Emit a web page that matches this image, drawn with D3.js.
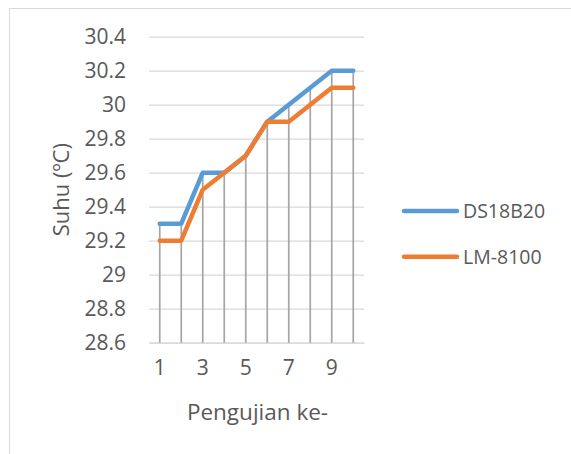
<!DOCTYPE html>
<html>
<head>
<meta charset="utf-8">
<script src="https://cdn.jsdelivr.net/npm/d3@7"></script>
<style>
  html, body { margin: 0; padding: 0; background: #fff; }
  svg { display: block; font-family: "Open Sans", "Noto Sans", sans-serif; }
</style>
</head>
<body>
<svg id="chart" width="571" height="454"></svg>
<script>
const categories = ["1", "2", "3", "4", "5", "6", "7", "8", "9", "10"];
const ds18b20 = [29.3, 29.3, 29.6, 29.6, 29.7, 29.9, 30.0, 30.1, 30.2, 30.2];
const lm8100  = [29.2, 29.2, 29.5, 29.6, 29.7, 29.9, 29.9, 30.0, 30.1, 30.1];
const seriesNames = ["DS18B20", "LM-8100"];
const yTickLabels = ["28.6", "28.8", "29", "29.2", "29.4", "29.6", "29.8", "30", "30.2", "30.4"];
const xTickLabels = ["1", "3", "5", "7", "9"];
const xTitle = "Pengujian ke-";
const yTitle = "Suhu (ºC)";

const colors = ["#5b9bd5", "#ed7d31"];
const textColor = "#595959";
const series = [ds18b20, lm8100];

const svg = d3.select("#chart");
const plot = { left: 149, right: 364, top: 36.7, bottom: 342.7 };

// chart area border
svg.append("path")
  .attr("d", `M9.5,454 V8.5 H571`)
  .attr("fill", "none").attr("stroke", "#d9d9d9").attr("stroke-width", 1);

const x = d3.scaleBand().domain(categories).range([plot.left, plot.right]).paddingInner(0).paddingOuter(0);
const cx = c => x(c) + x.bandwidth() / 2;
const y = d3.scaleLinear()
  .domain([+yTickLabels[0], +yTickLabels[yTickLabels.length - 1]])
  .range([plot.bottom, plot.top]);

// gridlines + y labels
const yAxisG = svg.append("g")
  .attr("transform", `translate(${plot.left},0)`)
  .call(d3.axisLeft(y)
    .tickValues(yTickLabels.map(Number))
    .tickFormat((d, i) => yTickLabels[i])
    .tickSize(-(plot.right - plot.left))
    .tickPadding(23));
yAxisG.select(".domain").remove();
yAxisG.selectAll(".tick line").attr("stroke", "#d9d9d9").attr("stroke-width", 1.3);
yAxisG.selectAll(".tick text")
  .attr("fill", textColor).style("font-size", "21px")
  .style("font-family", '"Open Sans", sans-serif');

// x axis line + labels
const xAxisG = svg.append("g")
  .attr("transform", `translate(0,${plot.bottom})`)
  .call(d3.axisBottom(x)
    .tickValues(xTickLabels)
    .tickSize(0)
    .tickPadding(17));
xAxisG.select(".domain").attr("stroke", "#d9d9d9").attr("stroke-width", 1.3);
xAxisG.selectAll(".tick text")
  .attr("fill", textColor).style("font-size", "21px")
  .style("font-family", '"Open Sans", sans-serif');

// drop lines
svg.append("g").selectAll("line")
  .data(categories)
  .join("line")
  .attr("x1", d => cx(d)).attr("x2", d => cx(d))
  .attr("y1", (d, i) => y(Math.max(ds18b20[i], lm8100[i])))
  .attr("y2", plot.bottom)
  .attr("stroke", "#a5a5a5").attr("stroke-width", 1.7);

// lines
const line = d3.line().x((d, i) => cx(categories[i])).y(d => y(d));
series.forEach((s, k) => {
  svg.append("path")
    .datum(s)
    .attr("d", line)
    .attr("fill", "none")
    .attr("stroke", colors[k])
    .attr("stroke-width", 4.5)
    .attr("stroke-linecap", "round")
    .attr("stroke-linejoin", "round");
});

// axis titles
svg.append("text")
  .attr("x", (plot.left + plot.right) / 2 + 1).attr("y", 420)
  .attr("text-anchor", "middle")
  .attr("fill", textColor).style("font-size", "22.5px")
  .text(xTitle);

svg.append("text")
  .attr("transform", `translate(69,${(plot.top + plot.bottom) / 2}) rotate(-90)`)
  .attr("text-anchor", "middle")
  .attr("fill", textColor).style("font-size", "22px")
  .text(yTitle);

// legend
const legend = svg.append("g");
seriesNames.forEach((name, k) => {
  const ly = 211 + k * 45.7;
  legend.append("line")
    .attr("x1", 404).attr("x2", 457).attr("y1", ly).attr("y2", ly)
    .attr("stroke", colors[k]).attr("stroke-width", 4.5).attr("stroke-linecap", "round");
  legend.append("text")
    .attr("x", 463).attr("y", ly).attr("dy", "0.35em")
    .attr("fill", textColor).style("font-size", "19.5px")
    .text(name);
});
</script>
</body>
</html>
